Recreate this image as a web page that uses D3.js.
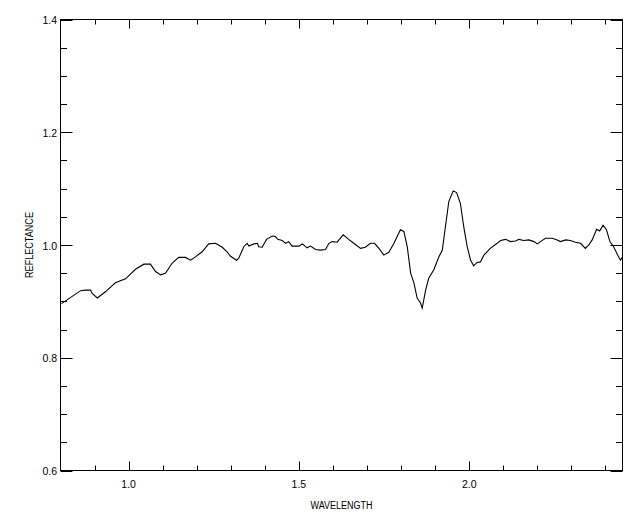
<!DOCTYPE html>
<html><head><meta charset="utf-8">
<script src="https://cdn.jsdelivr.net/npm/d3@7"></script>
<style>body{margin:0;background:#fff}svg{display:block}text{font-family:"Liberation Sans",Arial,sans-serif;fill:#000}</style>
</head><body><svg id="c" width="640" height="512"></svg>
<script>
const wavelength = [0.803,0.859,0.873,0.888,0.893,0.908,0.932,0.961,0.991,1.020,1.045,1.064,1.079,1.094,1.108,1.128,1.147,1.167,1.182,1.196,1.216,1.235,1.255,1.275,1.289,1.299,1.317,1.323,1.338,1.348,1.353,1.368,1.378,1.382,1.392,1.405,1.422,1.431,1.438,1.451,1.461,1.470,1.480,1.500,1.510,1.524,1.534,1.549,1.563,1.578,1.588,1.598,1.612,1.630,1.646,1.661,1.681,1.695,1.710,1.722,1.735,1.749,1.764,1.779,1.798,1.808,1.818,1.828,1.838,1.847,1.857,1.862,1.872,1.881,1.896,1.911,1.921,1.930,1.940,1.953,1.963,1.974,1.984,1.994,2.004,2.013,2.023,2.033,2.043,2.062,2.082,2.092,2.107,2.121,2.136,2.146,2.160,2.175,2.190,2.200,2.209,2.224,2.244,2.258,2.268,2.283,2.297,2.312,2.327,2.341,2.351,2.361,2.374,2.383,2.393,2.403,2.413,2.424,2.436,2.444,2.449];
const reflectance = [0.896,0.919,0.920,0.920,0.914,0.906,0.917,0.933,0.940,0.957,0.966,0.966,0.953,0.947,0.950,0.968,0.978,0.978,0.973,0.979,0.988,1.002,1.003,0.996,0.988,0.980,0.973,0.976,0.997,1.003,0.998,1.002,1.003,0.997,0.996,1.010,1.016,1.015,1.010,1.008,1.003,1.006,0.998,0.998,1.002,0.995,0.998,0.992,0.991,0.992,1.003,1.006,1.005,1.018,1.010,1.003,0.994,0.996,1.003,1.003,0.994,0.982,0.987,1.003,1.027,1.024,0.997,0.950,0.932,0.906,0.897,0.888,0.920,0.941,0.956,0.979,0.991,1.032,1.077,1.096,1.093,1.074,1.032,0.997,0.973,0.963,0.969,0.970,0.982,0.994,1.003,1.008,1.010,1.006,1.007,1.010,1.008,1.009,1.006,1.002,1.006,1.012,1.012,1.009,1.006,1.009,1.008,1.005,1.003,0.994,1.000,1.009,1.028,1.025,1.035,1.027,1.006,0.997,0.982,0.973,0.978];
const xMajor = [1.0, 1.5, 2.0];
const xMinor = [0.9,1.0,1.1,1.2,1.3,1.4,1.5,1.6,1.7,1.8,1.9,2.0,2.1,2.2,2.3,2.4];
const yMajor = [0.6, 0.8, 1.0, 1.2, 1.4];
const yMinor = [0.65,0.7,0.75,0.85,0.9,0.95,1.05,1.1,1.15,1.25,1.3,1.35];
const xTitle = "WAVELENGTH", yTitle = "REFLECTANCE";

const L=60.5,R=622.5,T=19.5,B=470.5;
const x=d3.scaleLinear().domain([0.8,2.45]).range([L,R]);
const y=d3.scaleLinear().domain([0.6,1.4]).range([B,T]);
const svg=d3.select("#c");
svg.append("defs").append("clipPath").attr("id","clip").append("rect").attr("x",L).attr("y",T).attr("width",R-L).attr("height",B-T);
svg.append("rect").attr("x",L).attr("y",T).attr("width",R-L).attr("height",B-T).attr("fill","none").attr("stroke","#000").attr("stroke-width",1);
const g=svg.append("g").attr("stroke","#000").attr("stroke-width",1);
const xt=(v,len)=>{const px=Math.round(x(v))+0.5;
  g.append("line").attr("x1",px).attr("x2",px).attr("y1",B).attr("y2",B-len);
  g.append("line").attr("x1",px).attr("x2",px).attr("y1",T).attr("y2",T+len);};
xMinor.forEach(v=>xt(v, xMajor.some(m=>Math.abs(m-v)<1e-9)?9:5));
const yt=(v,len)=>{const py=Math.round(y(v))+0.5;
  g.append("line").attr("x1",L).attr("x2",L+len).attr("y1",py).attr("y2",py);
  g.append("line").attr("x1",R).attr("x2",R-len).attr("y1",py).attr("y2",py);};
yMajor.forEach(v=>yt(v,12));
yMinor.forEach(v=>yt(v,6.5));
yMajor.forEach(v=>svg.append("text").attr("x",57).attr("y",y(v)+4.5).attr("text-anchor","end").attr("font-size",10.5).text(v.toFixed(1)));
xMajor.forEach(v=>svg.append("text").attr("x",x(v)).attr("y",487.5).attr("text-anchor","middle").attr("font-size",10.5).text(v.toFixed(1)));
svg.append("text").attr("x",(L+R)/2).attr("y",509).attr("text-anchor","middle").attr("font-size",10).attr("textLength",62).attr("lengthAdjust","spacingAndGlyphs").text(xTitle);
svg.append("text").attr("transform",`translate(33,${(T+B)/2}) rotate(-90)`).attr("text-anchor","middle").attr("font-size",10).attr("textLength",66).attr("lengthAdjust","spacingAndGlyphs").text(yTitle);
const data=wavelength.map((w,i)=>[w,reflectance[i]]);
svg.append("path").datum(data).attr("clip-path","url(#clip)").attr("fill","none").attr("stroke","#000").attr("stroke-width",1.1)
  .attr("d",d3.line().x(d=>x(d[0])).y(d=>y(d[1])));
</script></body></html>
